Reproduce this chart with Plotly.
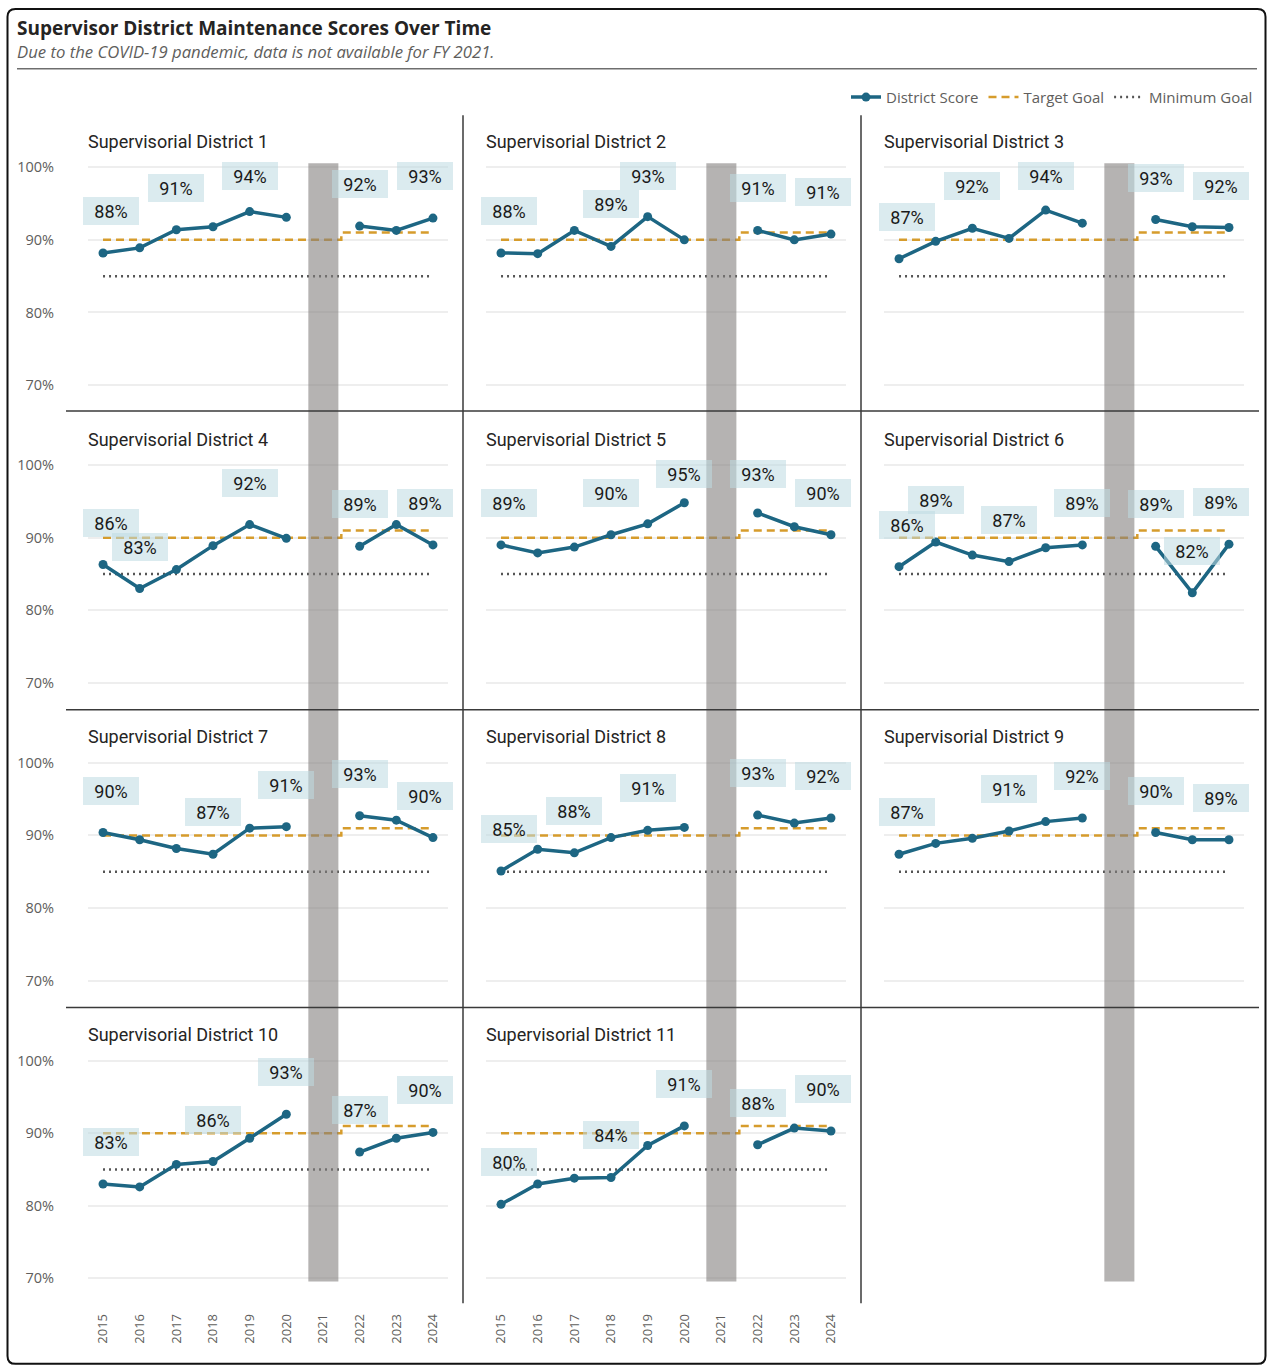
import plotly.graph_objects as go

W, H = 1267, 1376
# page placement of the figure: screen_y = Y0 + Y_SCALE * figure_y
Y0, Y_SCALE = 4.6, 0.9928

# ---- data -------------------------------------------------------------
years = [2015, 2016, 2017, 2018, 2019, 2020, 2021, 2022, 2023, 2024]
year_labels = [str(y) for y in years]

district_titles = [f"Supervisorial District {i}" for i in range(1, 12)]

# FY 2021 has no data (COVID-19)
district_1 = [88.2, 88.9, 91.4, 91.8, 93.9, 93.1, None, 91.9, 91.3, 93.0]
district_2 = [88.2, 88.1, 91.3, 89.1, 93.2, 90.0, None, 91.3, 90.0, 90.8]
district_3 = [87.4, 89.8, 91.6, 90.2, 94.1, 92.3, None, 92.8, 91.8, 91.7]
district_4 = [86.3, 83.0, 85.6, 88.9, 91.8, 89.9, None, 88.8, 91.8, 89.0]
district_5 = [89.0, 87.9, 88.7, 90.4, 91.9, 94.8, None, 93.4, 91.5, 90.4]
district_6 = [86.0, 89.4, 87.6, 86.7, 88.6, 89.0, None, 88.8, 82.4, 89.1]
district_7 = [90.4, 89.4, 88.2, 87.4, 91.0, 91.2, None, 92.7, 92.1, 89.7]
district_8 = [85.1, 88.1, 87.6, 89.7, 90.7, 91.1, None, 92.8, 91.7, 92.4]
district_9 = [87.4, 88.9, 89.6, 90.6, 91.9, 92.4, None, 90.4, 89.4, 89.4]
district_10 = [83.0, 82.6, 85.7, 86.1, 89.3, 92.6, None, 87.4, 89.3, 90.1]
district_11 = [80.2, 83.0, 83.8, 83.9, 88.3, 91.0, None, 88.4, 90.7, 90.3]

target_goal = [90, 90, 90, 90, 90, 90, 90, 91, 91, 91]
minimum_goal = [85, 85, 85, 85, 85, 85, 85, 85, 85, 85]

# years that carry a data label in each district
labelled_1 = [2015, 2017, 2019, 2022, 2024]
labelled_2 = [2015, 2018, 2019, 2022, 2024]
labelled_3 = [2015, 2017, 2019, 2022, 2024]
labelled_4 = [2015, 2016, 2019, 2022, 2024]
labelled_5 = [2015, 2018, 2020, 2022, 2024]
labelled_6 = [2015, 2016, 2018, 2020, 2022, 2023, 2024]
labelled_7 = [2015, 2018, 2020, 2022, 2024]
labelled_8 = [2015, 2017, 2019, 2022, 2024]
labelled_9 = [2015, 2018, 2020, 2022, 2024]
labelled_10 = [2015, 2018, 2020, 2022, 2024]
labelled_11 = [2015, 2018, 2020, 2022, 2024]

y_ticks = [70, 80, 90, 100]
y_tick_text = ["70%", "80%", "90%", "100%"]

scores = [district_1, district_2, district_3, district_4, district_5, district_6,
          district_7, district_8, district_9, district_10, district_11]
labelled = [labelled_1, labelled_2, labelled_3, labelled_4, labelled_5, labelled_6,
            labelled_7, labelled_8, labelled_9, labelled_10, labelled_11]

# ---- styling / layout constants -------------------------------------------
SCORE_C = "#1d6683"
TARGET_C = "#d69c2c"
MIN_C = "#555555"
BAND_C = "rgba(132,129,126,0.6)"
LABEL_BG = "rgba(190,218,225,0.55)"
TEXT_DARK = "#252423"
TEXT_GREY = "#605e5c"
FONT = "Open Sans"
PANEL_FONT = "Roboto"

COL_LEFT = [88, 486, 884]
PANEL_W = 360
ROW_TOP = 162
ROW_PITCH = 298
PANEL_H = 226
Y_RANGE = [69.45, 100.55]
X_RANGE = [2014.59, 2024.41]
PX_PER_UNIT = PANEL_H / (Y_RANGE[1] - Y_RANGE[0])
LABEL_RISE = 42 / PX_PER_UNIT          # label sits above its point
LABEL_CAP = 100 - 9 / PX_PER_UNIT       # keep labels inside the panel


def px_x(p):
    return p / W


def px_y(p):
    return 1 - ((p - Y0) / Y_SCALE) / H


fig = go.Figure()
layout = {}
annotations = []
shapes = []

for k in range(12):
    row, col = divmod(k, 3)
    n = k + 1
    xa = "x" if n == 1 else f"x{n}"
    ya = "y" if n == 1 else f"y{n}"
    left = COL_LEFT[col]
    top = ROW_TOP + row * ROW_PITCH
    bottom = top + PANEL_H
    empty = k >= len(scores)

    layout["xaxis" if n == 1 else f"xaxis{n}"] = dict(
        domain=[px_x(left), px_x(left + PANEL_W)],
        range=X_RANGE, anchor=ya, showgrid=False, zeroline=False,
        showline=False, ticks="", tickvals=years, ticktext=year_labels,
        showticklabels=(row == 3),
        tickangle=-90, ticklabelstandoff=28,
        tickfont=dict(family=FONT, size=13, color=TEXT_GREY),
        fixedrange=True,
    )
    layout["yaxis" if n == 1 else f"yaxis{n}"] = dict(
        domain=[px_y(bottom), px_y(top)], range=Y_RANGE, anchor=xa,
        showgrid=not empty, gridcolor="#eeeeee", gridwidth=1.5,
        zeroline=False, showline=False, ticks="",
        tickvals=y_ticks, ticktext=y_tick_text,
        showticklabels=(col == 0), ticklabelstandoff=33,
        tickfont=dict(family=FONT, size=14.5, color=TEXT_GREY),
        fixedrange=True,
    )

    if empty:
        continue

    vals = scores[k]
    first = k == 0
    fig.add_trace(go.Scatter(
        x=years, y=minimum_goal, xaxis=xa, yaxis=ya, mode="lines",
        name="Minimum Goal", legendgroup="min", showlegend=first, legendrank=3,
        line=dict(color=MIN_C, width=2.5, dash="2px,4px"), hoverinfo="skip"))
    fig.add_trace(go.Scatter(
        x=years, y=target_goal, xaxis=xa, yaxis=ya, mode="lines",
        name="Target Goal", legendgroup="target", showlegend=first, legendrank=2,
        line=dict(color=TARGET_C, width=2.5, dash="8px,5px", shape="hvh"),
        hoverinfo="skip"))
    fig.add_trace(go.Scatter(
        x=years, y=vals, xaxis=xa, yaxis=ya, mode="lines+markers",
        name="District Score", legendgroup="score", showlegend=first, legendrank=1,
        connectgaps=False,
        line=dict(color=SCORE_C, width=3.5), marker=dict(color=SCORE_C, size=9)))

    # panel title
    annotations.append(dict(
        xref="paper", yref="paper", x=px_x(left - 2), y=px_y(140 + row * ROW_PITCH),
        xanchor="left", yanchor="middle", showarrow=False,
        text=district_titles[k],
        font=dict(family=PANEL_FONT, size=18, color=TEXT_DARK)))

    # data labels
    for yr in labelled[k]:
        v = vals[years.index(yr)]
        shift = 8 if yr == years[0] else (-8 if yr == years[-1] else 0)
        annotations.append(dict(
            xref=xa, yref=ya, x=yr, y=min(v + LABEL_RISE, LABEL_CAP),
            xanchor="center", yanchor="middle", xshift=shift, showarrow=False,
            text=f"{v:.0f}%", bgcolor=LABEL_BG, width=50, height=22,
            borderpad=3, borderwidth=0,
            font=dict(family=PANEL_FONT, size=18, color="#1a1a1a")))

# FY 2021 band in each column, full height of the grid
for col in range(3):
    n = col + 1
    xa = "x" if n == 1 else f"x{n}"
    shapes.append(dict(
        type="rect", xref=xa, yref="paper", x0=2020.6, x1=2021.42,
        y0=px_y(1281), y1=px_y(162), fillcolor=BAND_C, line=dict(width=0),
        layer="above"))

# grid separators
for yy in [410, 709, 1007]:
    shapes.append(dict(type="line", xref="paper", yref="paper",
                       x0=px_x(66), x1=px_x(1259), y0=px_y(yy), y1=px_y(yy),
                       line=dict(color="#3a3a3a", width=1.5)))
for xx in [463, 861]:
    shapes.append(dict(type="line", xref="paper", yref="paper",
                       x0=px_x(xx), x1=px_x(xx), y0=px_y(114), y1=px_y(1303),
                       line=dict(color="#3a3a3a", width=1.5)))

# header rule
shapes.append(dict(type="line", xref="paper", yref="paper",
                   x0=px_x(17), x1=px_x(1257), y0=px_y(67.5), y1=px_y(67.5),
                   line=dict(color="#6e6e6e", width=1.5)))

# rounded outer frame
l, r, t, b, rad = px_x(7.5), px_x(1265.5), px_y(7.5), px_y(1363.5), 8
rx, ry = rad / W, rad / H
frame = (f"M {l + rx} {t} L {r - rx} {t} Q {r} {t} {r} {t - ry} "
         f"L {r} {b + ry} Q {r} {b} {r - rx} {b} "
         f"L {l + rx} {b} Q {l} {b} {l} {b + ry} "
         f"L {l} {t - ry} Q {l} {t} {l + rx} {t} Z")
shapes.append(dict(type="path", xref="paper", yref="paper", path=frame,
                   line=dict(color="#111111", width=2)))

# heading
annotations.append(dict(
    xref="paper", yref="paper", x=px_x(15), y=px_y(27), xanchor="left",
    yanchor="middle", showarrow=False,
    text="<b>Supervisor District Maintenance Scores Over Time</b>",
    font=dict(family=FONT, size=19, color=TEXT_DARK)))
annotations.append(dict(
    xref="paper", yref="paper", x=px_x(15), y=px_y(50), xanchor="left",
    yanchor="middle", showarrow=False,
    text="<i>Due to the COVID-19 pandemic, data is not available for FY 2021.</i>",
    font=dict(family=FONT, size=16.7, color=TEXT_GREY)))

fig.update_layout(
    width=W, height=H, margin=dict(l=0, r=0, t=0, b=0),
    paper_bgcolor="white", plot_bgcolor="white",
    showlegend=True,
    legend=dict(orientation="h", x=px_x(1258), xanchor="right",
                y=px_y(96), yanchor="middle", bgcolor="rgba(0,0,0,0)",
                font=dict(family=FONT, size=15, color=TEXT_GREY),
                itemwidth=30, tracegroupgap=0),
    annotations=annotations, shapes=shapes,
    hovermode=False,
    **layout,
)

fig.write_html("out.html")
